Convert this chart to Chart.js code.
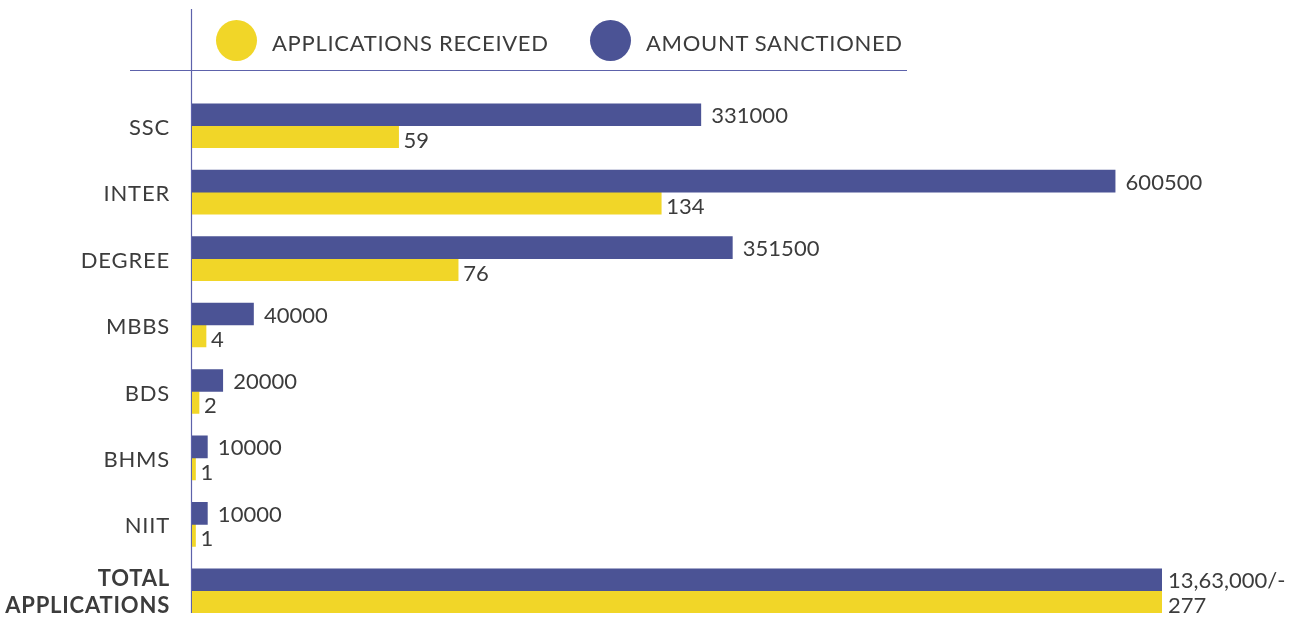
<!DOCTYPE html>
<html>
<head>
<meta charset="utf-8">
<script src="https://cdn.jsdelivr.net/npm/chart.js@4.4.1/dist/chart.umd.min.js"></script>
<style>
    html, body { margin: 0; padding: 0; background: #fff; overflow: hidden; }
    #wrap { position: relative; width: 1298px; height: 620px; overflow: hidden; }
    #chart { display: block; }
    #legend .item { position: absolute; top: 20px; display: flex; align-items: center; }
    #legend .dot { width: 41px; height: 41px; border-radius: 50%; }
    #legend span { margin-left: 15px; font: 22px Lato, sans-serif; letter-spacing: 0.7px; color: #3c3c3c; position: relative; top: 2px; white-space: nowrap; }
</style>
</head>
<body>
<div id="wrap">
    <canvas id="chart" width="1298" height="630"></canvas>
    <div id="legend"></div>
</div>
<script>
const categories = ["SSC", "INTER", "DEGREE", "MBBS", "BDS", "BHMS", "NIIT", ["TOTAL", "APPLICATIONS"]];
const amountSanctioned = [331000, 600500, 351500, 40000, 20000, 10000, 10000, 1363000];
const applicationsReceived = [59, 134, 76, 4, 2, 1, 1, 277];

const seriesNames = ["APPLICATIONS RECEIVED", "AMOUNT SANCTIONED"];
const seriesColors = ["#f1d628", "#4b5395"];

const textColor = "#3c3c3c";
const lineColor = "#5d62ab";
const lastIndex = categories.length - 1;

function indianFormat(n) {
    const s = String(n);
    const last3 = s.slice(-3);
    const rest = s.slice(0, -3).replace(/\B(?=(\d{2})+(?!\d))/g, ",");
    return (rest ? rest + "," : "") + last3;
}

// legend drawn as html so it can sit above the separator line
const legendX = [216, 590];
document.getElementById("legend").innerHTML = seriesNames.map((name, i) =>
    `<div class="item" style="left:${legendX[i]}px"><div class="dot" style="background:${seriesColors[i]}"></div><span>${name}</span></div>`
).join("");

const decor = {
    id: "decor",
    beforeDraw(chart) {
        const ctx = chart.ctx;
        const left = chart.chartArea.left - 0.5;
        ctx.save();
        ctx.strokeStyle = lineColor;
        ctx.lineWidth = 1.2;
        ctx.beginPath();
        ctx.moveTo(left, 9);
        ctx.lineTo(left, 613);
        ctx.moveTo(130, 70.5);
        ctx.lineTo(907, 70.5);
        ctx.stroke();
        ctx.restore();
        // category labels are a little wider-set in the original
        ctx.letterSpacing = "0.8px";
    },
    beforeDatasetsDraw(chart) {
        chart.ctx.letterSpacing = "0px";
    },
    afterDatasetsDraw(chart) {
        const ctx = chart.ctx;
        const area = chart.chartArea;
        const gaps = [10.5, 5];
        const lift = [2.5, 0];
        ctx.save();
        ctx.font = "22px Lato, sans-serif";
        ctx.fillStyle = textColor;
        ctx.textAlign = "left";
        ctx.textBaseline = "alphabetic";
        chart.data.datasets.forEach((ds, di) => {
            const meta = chart.getDatasetMeta(di);
            meta.data.forEach((bar, i) => {
                const p = bar.getProps(["x", "y", "height"], true);
                const end = Math.min(p.x, area.right);
                const x = end + (i === lastIndex ? 6 : gaps[di]);
                const y = p.y + p.height / 2 - lift[di];
                let txt = String(ds.data[i]);
                if (di === 0 && i === lastIndex) txt = indianFormat(ds.data[i]) + "/-";
                ctx.fillText(txt, x, y);
            });
        });
        ctx.restore();
    }
};

new Chart(document.getElementById("chart"), {
    type: "bar",
    data: {
        labels: categories,
        datasets: [
            {
                label: seriesNames[1],
                data: amountSanctioned,
                backgroundColor: seriesColors[1],
                xAxisID: "x2",
                barThickness: 22,
                clip: 0
            },
            {
                label: seriesNames[0],
                data: applicationsReceived,
                backgroundColor: seriesColors[0],
                xAxisID: "x",
                barThickness: 22,
                clip: 0
            }
        ]
    },
    options: {
        indexAxis: "y",
        responsive: false,
        animation: false,
        layout: { padding: { left: 0, right: 136, top: 92.5, bottom: 6 } },
        scales: {
            y: {
                grid: { display: false },
                border: { display: false },
                ticks: {
                    padding: 14,
                    labelOffset: 2,
                    color: textColor,
                    font: c => ({
                        family: "Lato",
                        size: 22,
                        weight: c.index === lastIndex ? "bold" : "normal",
                        lineHeight: 1.23
                    })
                },
                afterFit: s => {
                    s.width = 192;
                    s.paddingTop = 0;
                    s.paddingBottom = 0;
                }
            },
            x: { display: false, min: 0, max: 277 },
            x2: { axis: "x", type: "linear", display: false, min: 0, max: 631000 }
        },
        plugins: {
            legend: { display: false },
            tooltip: { enabled: false }
        }
    },
    plugins: [decor]
});
</script>
</body>
</html>
